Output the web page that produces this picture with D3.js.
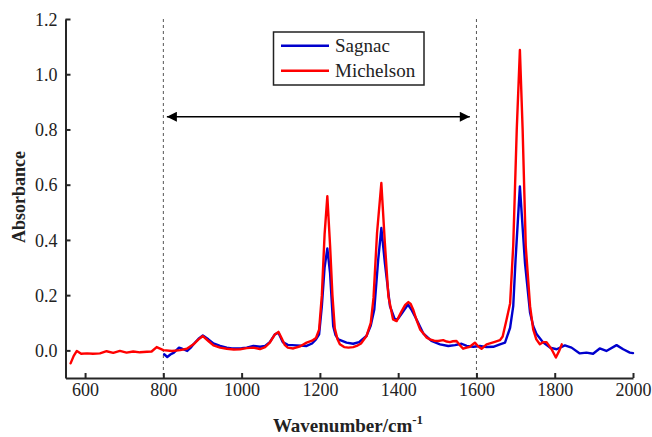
<!DOCTYPE html>
<html>
<head>
<meta charset="utf-8">
<script src="https://cdn.jsdelivr.net/npm/d3@7"></script>
<style>
  html, body { margin: 0; padding: 0; background: #fff; }
  svg { display: block; }
  svg text { font-family: "Liberation Serif", "Times New Roman", Times, "Noto Serif", "DejaVu Serif", serif; fill: #222; }
</style>
</head>
<body>
<svg id="chart" width="652" height="437"></svg>
<script>
// ---- Data ----
const michelsonWn = [563,571,579,590,605,620,638,655,672,689,706,723,740,758,770,783,800,822,843,860,877,890,901,915,928,945,962,980,996,1013,1030,1047,1060,1072,1085,1094,1102,1110,1118,1132,1150,1166,1180,1190,1198,1205,1212,1219,1226,1232,1238,1245,1251,1262,1273,1285,1294,1305,1319,1330,1337,1346,1357,1366,1375,1387,1396,1409,1418,1426,1432,1439,1447,1456,1464,1473,1481,1492,1502,1515,1524,1532,1540,1549,1557,1566,1575,1583,1596,1604,1613,1626,1647,1660,1667,1677,1686,1694,1703,1711,1718,1726,1737,1745,1753,1762,1771,1779,1792,1803,1812,1818];
const michelsonAbs = [-0.047,-0.02,-0.002,-0.012,-0.011,-0.012,-0.011,-0.003,-0.009,-0.002,-0.008,-0.004,-0.007,-0.005,-0.004,0.012,0.001,-0.002,0.001,0.006,0.022,0.04,0.052,0.034,0.018,0.01,0.006,0.003,0.004,0.008,0.01,0.005,0.012,0.028,0.058,0.067,0.045,0.02,0.01,0.007,0.015,0.028,0.035,0.045,0.075,0.2,0.42,0.558,0.38,0.2,0.08,0.04,0.022,0.012,0.01,0.012,0.016,0.025,0.052,0.1,0.19,0.425,0.606,0.389,0.196,0.112,0.106,0.142,0.165,0.175,0.168,0.145,0.11,0.076,0.062,0.046,0.04,0.035,0.034,0.037,0.032,0.03,0.033,0.034,0.02,0.006,0.01,0.013,0.028,0.015,0.006,0.022,0.031,0.037,0.05,0.112,0.17,0.38,0.8,1.088,0.8,0.377,0.16,0.076,0.04,0.022,0.03,0.03,0.004,-0.026,0.0,0.022];

const sagnacWn = [802,810,818,827,840,848,861,870,877,890,901,915,928,945,962,975,987,1000,1013,1030,1047,1060,1072,1085,1094,1105,1118,1140,1166,1180,1190,1198,1205,1212,1219,1226,1234,1240,1247,1268,1285,1300,1319,1330,1339,1349,1357,1366,1379,1392,1400,1410,1425,1435,1447,1464,1485,1507,1528,1545,1562,1575,1592,1609,1626,1643,1660,1673,1686,1694,1700,1711,1724,1737,1745,1754,1771,1788,1805,1826,1843,1864,1881,1898,1915,1932,1958,1975,1992,2000];
const sagnacAbs = [-0.014,-0.024,-0.015,-0.008,0.01,0.006,-0.002,0.01,0.022,0.042,0.054,0.04,0.025,0.016,0.01,0.007,0.007,0.008,0.01,0.016,0.013,0.016,0.03,0.058,0.064,0.03,0.02,0.018,0.016,0.025,0.04,0.058,0.16,0.3,0.369,0.28,0.088,0.055,0.04,0.028,0.024,0.03,0.052,0.09,0.148,0.329,0.443,0.317,0.16,0.11,0.115,0.135,0.166,0.145,0.112,0.062,0.034,0.022,0.016,0.019,0.024,0.016,0.013,0.016,0.012,0.013,0.022,0.028,0.082,0.16,0.33,0.594,0.317,0.136,0.088,0.058,0.028,0.01,0.004,0.018,0.01,-0.011,-0.008,-0.012,0.007,-0.002,0.019,0.004,-0.008,-0.01];

const xTicks = [600,800,1000,1200,1400,1600,1800,2000];
const yTicks = [0.0,0.2,0.4,0.6,0.8,1.0,1.2];
const regionBounds = [800,1600];
const arrowSpan = [809,1583];
const arrowLevel = 0.846;
const seriesNames = ["Sagnac","Michelson"];
const seriesColors = ["#0000cd","#ff0000"];

// ---- Layout ----
const FONT = '"Liberation Serif", "Times New Roman", Times, "Noto Serif", "DejaVu Serif", serif';
const svg = d3.select("#chart");
const plotL = 65.5, plotR = 633, plotT = 19, plotB = 378;

const x = d3.scaleLinear().domain([550, 2000]).range([plotL, plotR]);
const y = d3.scaleLinear().domain([-0.1, 1.2]).range([plotB, plotT]);

// dashed region lines
svg.selectAll(".vline").data(regionBounds).enter().append("line")
  .attr("x1", d => x(d)).attr("x2", d => x(d))
  .attr("y1", plotT).attr("y2", plotB)
  .attr("stroke", "#555").attr("stroke-width", 1)
  .attr("stroke-dasharray", "3,3");

// double arrow
const defs = svg.append("defs");
defs.append("marker").attr("id","ahE").attr("viewBox","0 0 10 10")
  .attr("refX",10).attr("refY",5).attr("markerWidth",14).attr("markerHeight",10)
  .attr("markerUnits","userSpaceOnUse").attr("orient","auto")
  .append("path").attr("d","M0,0 L10,5 L0,10 Z").attr("fill","#000");
defs.append("marker").attr("id","ahS").attr("viewBox","0 0 10 10")
  .attr("refX",0).attr("refY",5).attr("markerWidth",14).attr("markerHeight",10)
  .attr("markerUnits","userSpaceOnUse").attr("orient","auto")
  .append("path").attr("d","M10,0 L0,5 L10,10 Z").attr("fill","#000");
svg.append("line")
  .attr("x1", x(arrowSpan[0])).attr("x2", x(arrowSpan[1]))
  .attr("y1", y(arrowLevel)).attr("y2", y(arrowLevel))
  .attr("stroke","#000").attr("stroke-width",1.3)
  .attr("marker-start","url(#ahS)").attr("marker-end","url(#ahE)");

// lines
const line = d3.line().x(d => x(d[0])).y(d => y(d[1]));
const sagnac = sagnacWn.map((w,i) => [w, sagnacAbs[i]]);
const michelson = michelsonWn.map((w,i) => [w, michelsonAbs[i]]);
[sagnac, michelson].forEach((data, i) => {
  svg.append("path").datum(data)
    .attr("d", line)
    .attr("fill","none")
    .attr("stroke", seriesColors[i])
    .attr("stroke-width", 2.4)
    .attr("stroke-linejoin","round")
    .attr("stroke-linecap","round");
});

// axes
const xAxis = d3.axisBottom(x).tickValues(xTicks).tickSizeInner(-5).tickSizeOuter(0).tickPadding(5).tickFormat(d3.format("d"));
const yAxis = d3.axisLeft(y).tickValues(yTicks).tickSizeInner(-5).tickSizeOuter(0).tickPadding(8).tickFormat(d3.format(".1f"));

const gx = svg.append("g").attr("transform", `translate(0,${plotB})`).call(xAxis);
const gy = svg.append("g").attr("transform", `translate(${plotL},0)`).call(yAxis);
[gx, gy].forEach(g => {
  g.attr("font-family", FONT).attr("font-size", 18);
  g.select(".domain").attr("stroke","#262626").attr("stroke-width",2);
  g.selectAll(".tick line").attr("stroke","#262626").attr("stroke-width",2);
  g.selectAll(".tick text").style("font-family", FONT).style("font-size","18px").attr("fill","#222");
});
gy.selectAll(".tick text").attr("dy","0.34em");

// axis titles
const xt = svg.append("text")
  .attr("x", 348).attr("y", 432)
  .attr("text-anchor","middle")
  .style("font-family", FONT)
  .attr("font-size",19).attr("font-weight","bold");
xt.append("tspan").text("Wavenumber/cm");
xt.append("tspan").attr("dy",-8).attr("font-size",13).text("-1");

svg.append("text")
  .attr("transform","translate(25,197) rotate(-90)")
  .attr("text-anchor","middle")
  .style("font-family", FONT)
  .attr("font-size",18).attr("font-weight","bold")
  .text("Absorbance");

// legend
const lg = svg.append("g");
lg.append("rect").attr("x",273.5).attr("y",32).attr("width",150.5).attr("height",53)
  .attr("fill","#fff").attr("stroke","#222").attr("stroke-width",1.5);
seriesNames.forEach((n,i) => {
  const yy = 45.7 + i*25;
  lg.append("line").attr("x1",281).attr("x2",329).attr("y1",yy).attr("y2",yy)
    .attr("stroke",seriesColors[i]).attr("stroke-width",2.4);
  lg.append("text").attr("x",335).attr("y",yy).attr("dy","0.34em")
    .style("font-family", FONT)
    .attr("font-size",19).text(n);
});
</script>
</body>
</html>
